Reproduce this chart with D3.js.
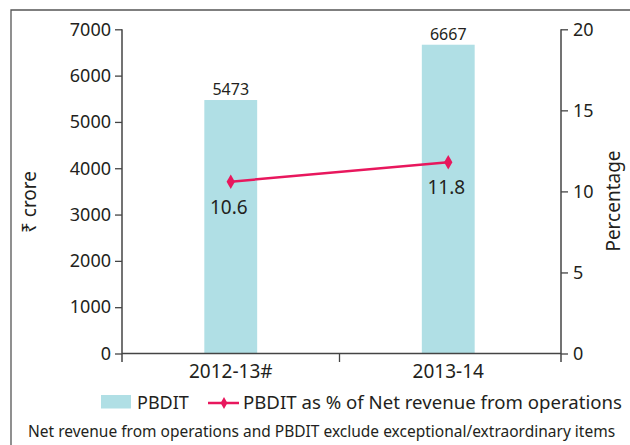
<!DOCTYPE html>
<html>
<head>
<meta charset="utf-8">
<script src="https://cdn.jsdelivr.net/npm/d3@7"></script>
<style>
  body { margin: 0; background: #fff; }
  svg { display: block; font-family: "Noto Sans", "Open Sans", sans-serif; }
  text { fill: #231f20; }
</style>
</head>
<body>
<svg id="chart" width="630" height="445"></svg>
<script>
const years = ["2012-13#", "2013-14"];
const pbdit = [5473, 6667];
const pbditPct = [10.6, 11.8];
const leftTicks = [0, 1000, 2000, 3000, 4000, 5000, 6000, 7000];
const rightTicks = [0, 5, 10, 15, 20];

const svg = d3.select("#chart");

// frame (top + left edges only are visible)
svg.append("path")
  .attr("d", "M11,445V10H630")
  .attr("fill", "none")
  .attr("stroke", "#555")
  .attr("stroke-width", 1.3);

const plotL = 122, plotR = 561, plotT = 29.3, plotB = 353.5;

const x = d3.scaleBand().domain(years).range([plotL, 557]);
const yL = d3.scaleLinear().domain([0, 7000]).range([plotB, plotT]);
const yR = d3.scaleLinear().domain([0, 20]).range([plotB, plotT]);

const barW = x.bandwidth() * 0.243;
const cx = (d) => x(d) + x.bandwidth() / 2;

// bars
svg.selectAll(".bar")
  .data(years)
  .join("rect")
  .attr("class", "bar")
  .attr("x", (d) => cx(d) - barW / 2)
  .attr("y", (d, i) => yL(pbdit[i]))
  .attr("width", barW)
  .attr("height", (d, i) => plotB - yL(pbdit[i]))
  .attr("fill", "#b0dfe5");

// bar labels
svg.selectAll(".barlab")
  .data(years)
  .join("text")
  .attr("class", "barlab")
  .attr("x", (d) => cx(d))
  .attr("y", (d, i) => yL(pbdit[i]) - 5)
  .attr("text-anchor", "middle")
  .attr("font-size", 16)
  .text((d, i) => pbdit[i]);

// axes
const axisL = svg.append("g")
  .attr("transform", `translate(${plotL},0)`)
  .call(d3.axisLeft(yL).tickValues(leftTicks).tickFormat(d3.format("d"))
    .tickSize(7).tickPadding(4).tickSizeOuter(0));
const axisR = svg.append("g")
  .attr("transform", `translate(${plotR},0)`)
  .call(d3.axisRight(yR).tickValues(rightTicks).tickSize(7).tickPadding(5).tickSizeOuter(0));

[axisL, axisR].forEach((g) => {
  g.select(".domain").remove();
  g.selectAll(".tick line").attr("stroke", "#444").attr("stroke-width", 1.3);
  g.selectAll(".tick text")
    .attr("font-size", 18)
    .attr("font-family", "Noto Sans")
    .attr("fill", "#231f20");
  g.append("line")
    .attr("y1", plotT)
    .attr("y2", plotB + 8.5)
    .attr("stroke", "#444")
    .attr("stroke-width", 1.5);
});

// x axis
svg.append("line")
  .attr("x1", plotL).attr("x2", plotR)
  .attr("y1", plotB).attr("y2", plotB)
  .attr("stroke", "#444").attr("stroke-width", 1.5);

svg.append("line")
  .attr("x1", x(years[1])).attr("x2", x(years[1]))
  .attr("y1", plotB).attr("y2", plotB + 8.5)
  .attr("stroke", "#444").attr("stroke-width", 1.3);

svg.selectAll(".xlab")
  .data(years)
  .join("text")
  .attr("class", "xlab")
  .attr("x", (d) => cx(d))
  .attr("y", 378)
  .attr("text-anchor", "middle")
  .attr("font-size", 19)
  .text((d) => d);

// axis titles
svg.append("text")
  .attr("transform", "translate(36,202) rotate(-90)")
  .attr("text-anchor", "middle")
  .attr("font-size", 19)
  .text("₹ crore");

svg.append("text")
  .attr("transform", "translate(620,201) rotate(-90)")
  .attr("text-anchor", "middle")
  .attr("font-size", 19)
  .text("Percentage");

// percentage line
const line = d3.line()
  .x((d, i) => cx(years[i]))
  .y((d) => yR(d));

svg.append("path")
  .datum(pbditPct)
  .attr("d", line)
  .attr("fill", "none")
  .attr("stroke", "#e8175d")
  .attr("stroke-width", 2.5);

const diamond = d3.symbol().type(d3.symbolDiamond).size(60);

svg.selectAll(".mark")
  .data(pbditPct)
  .join("path")
  .attr("class", "mark")
  .attr("transform", (d, i) => `translate(${cx(years[i])},${yR(d)})`)
  .attr("d", diamond)
  .attr("fill", "#e8175d");

svg.selectAll(".pctlab")
  .data(pbditPct)
  .join("text")
  .attr("class", "pctlab")
  .attr("x", (d, i) => cx(years[i]) - 2)
  .attr("y", (d) => yR(d) + 32)
  .attr("text-anchor", "middle")
  .attr("font-size", 19)
  .text((d) => d.toFixed(1));

// legend
svg.append("rect")
  .attr("x", 101).attr("y", 395)
  .attr("width", 30).attr("height", 13.5)
  .attr("fill", "#b0dfe5");

svg.append("text")
  .attr("x", 137).attr("y", 409)
  .attr("font-size", 18)
  .text("PBDIT");

svg.append("line")
  .attr("x1", 208).attr("x2", 239)
  .attr("y1", 403).attr("y2", 403)
  .attr("stroke", "#e8175d").attr("stroke-width", 2.5);

svg.append("path")
  .attr("transform", "translate(224,403)")
  .attr("d", d3.symbol().type(d3.symbolDiamond).size(40))
  .attr("fill", "#e8175d");

svg.append("text")
  .attr("x", 243).attr("y", 409)
  .attr("font-size", 18)
  .attr("textLength", 379)
  .attr("lengthAdjust", "spacingAndGlyphs")
  .text("PBDIT as % of Net revenue from operations");

// footnote
svg.append("text")
  .attr("x", 28).attr("y", 437)
  .attr("font-size", 15.5)
  .text("Net revenue from operations and PBDIT exclude exceptional/extraordinary items");
</script>
</body>
</html>
